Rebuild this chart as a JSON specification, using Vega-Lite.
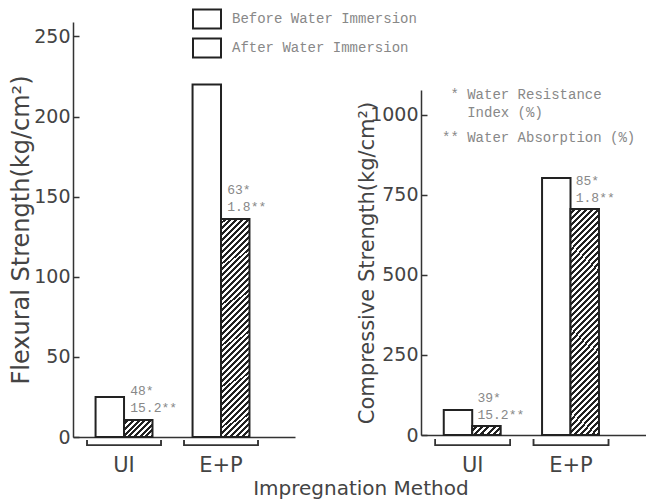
{
"$schema": "https://vega.github.io/schema/vega-lite/v6.json",
"padding": {"left": 9, "top": 4, "right": 0, "bottom": 0},
"title": {"text": "Impregnation Method", "orient": "bottom", "anchor": "middle", "dx": 33, "offset": 4, "font": "DejaVu Sans", "fontSize": 20, "fontWeight": "normal", "color": "#444"},
"datasets": {
 "flex": [
  {"method": "UI", "state": "Before Water Immersion", "value": 25},
  {"method": "UI", "state": "After Water Immersion", "value": 10.6, "wri": "48*", "abs": "15.2**"},
  {"method": "E+P", "state": "Before Water Immersion", "value": 220},
  {"method": "E+P", "state": "After Water Immersion", "value": 136, "wri": "63*", "abs": "1.8**"}
 ],
 "comp": [
  {"method": "UI", "state": "Before Water Immersion", "value": 78},
  {"method": "UI", "state": "After Water Immersion", "value": 28, "wri": "39*", "abs": "15.2**"},
  {"method": "E+P", "state": "Before Water Immersion", "value": 803},
  {"method": "E+P", "state": "After Water Immersion", "value": 706, "wri": "85*", "abs": "1.8**"}
 ]
},
"spacing": 126,
"bounds": "flush",
"resolve": {"scale": {"stroke": "independent"}, "legend": {"stroke": "independent"}},
"hconcat": [
 {
  "width": 222, "height": 415,
  "data": {"name": "flex"},
  "encoding": {
   "x": {"field": "method", "type": "nominal", "scale": {"domain": ["UI", "E+P"], "paddingInner": 0.237, "paddingOuter": 0.263, "align": 0.275}, "axis": {"title": null, "ticks": false, "labelFontSize": 21, "labelPadding": 17, "labelAngle": 0}},
   "y": {"field": "value", "type": "quantitative", "scale": {"domain": [0, 259], "nice": false}, "axis": {"title": "Flexural Strength(kg/cm²)", "values": [0, 50, 100, 150, 200, 250], "format": "d", "labelFontSize": 19, "tickSize": -6, "labelPadding": 9, "titleFontSize": 24, "titlePadding": 0}}
  },
  "layer": [
   {
    "mark": {"type": "bar", "strokeWidth": 2},
    "encoding": {
     "xOffset": {"field": "state", "type": "nominal", "scale": {"domain": ["Before Water Immersion", "After Water Immersion"], "paddingInner": 0, "paddingOuter": 0.3}},
     "stroke": {"field": "state", "type": "nominal", "scale": {"domain": ["Before Water Immersion", "After Water Immersion"], "range": ["#222", "#222"]},
      "legend": {"orient": "none", "legendX": 119, "legendY": -18, "title": null, "padding": 0, "rowPadding": 0, "symbolType": "M-1,-0.68H1V0.68H-1Z", "symbolSize": 784, "symbolStrokeWidth": 2, "labelFont": "Liberation Mono", "labelFontSize": 14, "labelColor": "#888", "labelOffset": 10, "labelLimit": 400,
       "encode": {"symbols": {"update": {"stroke": {"value": "#222"}, "strokeWidth": {"value": 2}, "opacity": {"value": 1}, "fill": [
        {"test": "datum.value === 'After Water Immersion'", "value": {"gradient": "linear", "x1": 0, "y1": 0, "x2": 1.1488, "y2": 0.7812, "stops": [
         {"offset": 0, "color": "#fff"}, {"offset": 0.0625, "color": "#fff"}, {"offset": 0.0625, "color": "#222"}, {"offset": 0.125, "color": "#222"},
         {"offset": 0.125, "color": "#fff"}, {"offset": 0.1875, "color": "#fff"}, {"offset": 0.1875, "color": "#222"}, {"offset": 0.25, "color": "#222"},
         {"offset": 0.25, "color": "#fff"}, {"offset": 0.3125, "color": "#fff"}, {"offset": 0.3125, "color": "#222"}, {"offset": 0.375, "color": "#222"},
         {"offset": 0.375, "color": "#fff"}, {"offset": 0.4375, "color": "#fff"}, {"offset": 0.4375, "color": "#222"}, {"offset": 0.5, "color": "#222"},
         {"offset": 0.5, "color": "#fff"}, {"offset": 0.5625, "color": "#fff"}, {"offset": 0.5625, "color": "#222"}, {"offset": 0.625, "color": "#222"},
         {"offset": 0.625, "color": "#fff"}, {"offset": 0.6875, "color": "#fff"}, {"offset": 0.6875, "color": "#222"}, {"offset": 0.75, "color": "#222"},
         {"offset": 0.75, "color": "#fff"}, {"offset": 0.8125, "color": "#fff"}, {"offset": 0.8125, "color": "#222"}, {"offset": 0.875, "color": "#222"},
         {"offset": 0.875, "color": "#fff"}, {"offset": 0.9375, "color": "#fff"}, {"offset": 0.9375, "color": "#222"}, {"offset": 1, "color": "#222"}]}},
        {"value": "#fff"}]}}}}},
     "fill": {"condition": [
      {"test": "datum.state === 'After Water Immersion' && datum.method === 'E+P'", "value": {"gradient": "linear", "x1": 0, "y1": 0, "x2": 0.1431, "y2": 1.1104, "stops": [
       {"offset": 0, "color": "#fff"}, {"offset": 0.0119, "color": "#fff"}, {"offset": 0.0119, "color": "#222"}, {"offset": 0.0238, "color": "#222"},
       {"offset": 0.0238, "color": "#fff"}, {"offset": 0.0357, "color": "#fff"}, {"offset": 0.0357, "color": "#222"}, {"offset": 0.0476, "color": "#222"},
       {"offset": 0.0476, "color": "#fff"}, {"offset": 0.0595, "color": "#fff"}, {"offset": 0.0595, "color": "#222"}, {"offset": 0.0714, "color": "#222"},
       {"offset": 0.0714, "color": "#fff"}, {"offset": 0.0833, "color": "#fff"}, {"offset": 0.0833, "color": "#222"}, {"offset": 0.0952, "color": "#222"},
       {"offset": 0.0952, "color": "#fff"}, {"offset": 0.1071, "color": "#fff"}, {"offset": 0.1071, "color": "#222"}, {"offset": 0.119, "color": "#222"},
       {"offset": 0.119, "color": "#fff"}, {"offset": 0.131, "color": "#fff"}, {"offset": 0.131, "color": "#222"}, {"offset": 0.1429, "color": "#222"},
       {"offset": 0.1429, "color": "#fff"}, {"offset": 0.1548, "color": "#fff"}, {"offset": 0.1548, "color": "#222"}, {"offset": 0.1667, "color": "#222"},
       {"offset": 0.1667, "color": "#fff"}, {"offset": 0.1786, "color": "#fff"}, {"offset": 0.1786, "color": "#222"}, {"offset": 0.1905, "color": "#222"},
       {"offset": 0.1905, "color": "#fff"}, {"offset": 0.2024, "color": "#fff"}, {"offset": 0.2024, "color": "#222"}, {"offset": 0.2143, "color": "#222"},
       {"offset": 0.2143, "color": "#fff"}, {"offset": 0.2262, "color": "#fff"}, {"offset": 0.2262, "color": "#222"}, {"offset": 0.2381, "color": "#222"},
       {"offset": 0.2381, "color": "#fff"}, {"offset": 0.25, "color": "#fff"}, {"offset": 0.25, "color": "#222"}, {"offset": 0.2619, "color": "#222"},
       {"offset": 0.2619, "color": "#fff"}, {"offset": 0.2738, "color": "#fff"}, {"offset": 0.2738, "color": "#222"}, {"offset": 0.2857, "color": "#222"},
       {"offset": 0.2857, "color": "#fff"}, {"offset": 0.2976, "color": "#fff"}, {"offset": 0.2976, "color": "#222"}, {"offset": 0.3095, "color": "#222"},
       {"offset": 0.3095, "color": "#fff"}, {"offset": 0.3214, "color": "#fff"}, {"offset": 0.3214, "color": "#222"}, {"offset": 0.3333, "color": "#222"},
       {"offset": 0.3333, "color": "#fff"}, {"offset": 0.3452, "color": "#fff"}, {"offset": 0.3452, "color": "#222"}, {"offset": 0.3571, "color": "#222"},
       {"offset": 0.3571, "color": "#fff"}, {"offset": 0.369, "color": "#fff"}, {"offset": 0.369, "color": "#222"}, {"offset": 0.381, "color": "#222"},
       {"offset": 0.381, "color": "#fff"}, {"offset": 0.3929, "color": "#fff"}, {"offset": 0.3929, "color": "#222"}, {"offset": 0.4048, "color": "#222"},
       {"offset": 0.4048, "color": "#fff"}, {"offset": 0.4167, "color": "#fff"}, {"offset": 0.4167, "color": "#222"}, {"offset": 0.4286, "color": "#222"},
       {"offset": 0.4286, "color": "#fff"}, {"offset": 0.4405, "color": "#fff"}, {"offset": 0.4405, "color": "#222"}, {"offset": 0.4524, "color": "#222"},
       {"offset": 0.4524, "color": "#fff"}, {"offset": 0.4643, "color": "#fff"}, {"offset": 0.4643, "color": "#222"}, {"offset": 0.4762, "color": "#222"},
       {"offset": 0.4762, "color": "#fff"}, {"offset": 0.4881, "color": "#fff"}, {"offset": 0.4881, "color": "#222"}, {"offset": 0.5, "color": "#222"},
       {"offset": 0.5, "color": "#fff"}, {"offset": 0.5119, "color": "#fff"}, {"offset": 0.5119, "color": "#222"}, {"offset": 0.5238, "color": "#222"},
       {"offset": 0.5238, "color": "#fff"}, {"offset": 0.5357, "color": "#fff"}, {"offset": 0.5357, "color": "#222"}, {"offset": 0.5476, "color": "#222"},
       {"offset": 0.5476, "color": "#fff"}, {"offset": 0.5595, "color": "#fff"}, {"offset": 0.5595, "color": "#222"}, {"offset": 0.5714, "color": "#222"},
       {"offset": 0.5714, "color": "#fff"}, {"offset": 0.5833, "color": "#fff"}, {"offset": 0.5833, "color": "#222"}, {"offset": 0.5952, "color": "#222"},
       {"offset": 0.5952, "color": "#fff"}, {"offset": 0.6071, "color": "#fff"}, {"offset": 0.6071, "color": "#222"}, {"offset": 0.619, "color": "#222"},
       {"offset": 0.619, "color": "#fff"}, {"offset": 0.631, "color": "#fff"}, {"offset": 0.631, "color": "#222"}, {"offset": 0.6429, "color": "#222"},
       {"offset": 0.6429, "color": "#fff"}, {"offset": 0.6548, "color": "#fff"}, {"offset": 0.6548, "color": "#222"}, {"offset": 0.6667, "color": "#222"},
       {"offset": 0.6667, "color": "#fff"}, {"offset": 0.6786, "color": "#fff"}, {"offset": 0.6786, "color": "#222"}, {"offset": 0.6905, "color": "#222"},
       {"offset": 0.6905, "color": "#fff"}, {"offset": 0.7024, "color": "#fff"}, {"offset": 0.7024, "color": "#222"}, {"offset": 0.7143, "color": "#222"},
       {"offset": 0.7143, "color": "#fff"}, {"offset": 0.7262, "color": "#fff"}, {"offset": 0.7262, "color": "#222"}, {"offset": 0.7381, "color": "#222"},
       {"offset": 0.7381, "color": "#fff"}, {"offset": 0.75, "color": "#fff"}, {"offset": 0.75, "color": "#222"}, {"offset": 0.7619, "color": "#222"},
       {"offset": 0.7619, "color": "#fff"}, {"offset": 0.7738, "color": "#fff"}, {"offset": 0.7738, "color": "#222"}, {"offset": 0.7857, "color": "#222"},
       {"offset": 0.7857, "color": "#fff"}, {"offset": 0.7976, "color": "#fff"}, {"offset": 0.7976, "color": "#222"}, {"offset": 0.8095, "color": "#222"},
       {"offset": 0.8095, "color": "#fff"}, {"offset": 0.8214, "color": "#fff"}, {"offset": 0.8214, "color": "#222"}, {"offset": 0.8333, "color": "#222"},
       {"offset": 0.8333, "color": "#fff"}, {"offset": 0.8452, "color": "#fff"}, {"offset": 0.8452, "color": "#222"}, {"offset": 0.8571, "color": "#222"},
       {"offset": 0.8571, "color": "#fff"}, {"offset": 0.869, "color": "#fff"}, {"offset": 0.869, "color": "#222"}, {"offset": 0.881, "color": "#222"},
       {"offset": 0.881, "color": "#fff"}, {"offset": 0.8929, "color": "#fff"}, {"offset": 0.8929, "color": "#222"}, {"offset": 0.9048, "color": "#222"},
       {"offset": 0.9048, "color": "#fff"}, {"offset": 0.9167, "color": "#fff"}, {"offset": 0.9167, "color": "#222"}, {"offset": 0.9286, "color": "#222"},
       {"offset": 0.9286, "color": "#fff"}, {"offset": 0.9405, "color": "#fff"}, {"offset": 0.9405, "color": "#222"}, {"offset": 0.9524, "color": "#222"},
       {"offset": 0.9524, "color": "#fff"}, {"offset": 0.9643, "color": "#fff"}, {"offset": 0.9643, "color": "#222"}, {"offset": 0.9762, "color": "#222"},
       {"offset": 0.9762, "color": "#fff"}, {"offset": 0.9881, "color": "#fff"}, {"offset": 0.9881, "color": "#222"}, {"offset": 1, "color": "#222"}]}},
      {"test": "datum.state === 'After Water Immersion'", "value": {"gradient": "linear", "x1": 0, "y1": 0, "x2": 1.178, "y2": 0.7026, "stops": [
       {"offset": 0, "color": "#fff"}, {"offset": 0.0625, "color": "#fff"}, {"offset": 0.0625, "color": "#222"}, {"offset": 0.125, "color": "#222"},
       {"offset": 0.125, "color": "#fff"}, {"offset": 0.1875, "color": "#fff"}, {"offset": 0.1875, "color": "#222"}, {"offset": 0.25, "color": "#222"},
       {"offset": 0.25, "color": "#fff"}, {"offset": 0.3125, "color": "#fff"}, {"offset": 0.3125, "color": "#222"}, {"offset": 0.375, "color": "#222"},
       {"offset": 0.375, "color": "#fff"}, {"offset": 0.4375, "color": "#fff"}, {"offset": 0.4375, "color": "#222"}, {"offset": 0.5, "color": "#222"},
       {"offset": 0.5, "color": "#fff"}, {"offset": 0.5625, "color": "#fff"}, {"offset": 0.5625, "color": "#222"}, {"offset": 0.625, "color": "#222"},
       {"offset": 0.625, "color": "#fff"}, {"offset": 0.6875, "color": "#fff"}, {"offset": 0.6875, "color": "#222"}, {"offset": 0.75, "color": "#222"},
       {"offset": 0.75, "color": "#fff"}, {"offset": 0.8125, "color": "#fff"}, {"offset": 0.8125, "color": "#222"}, {"offset": 0.875, "color": "#222"},
       {"offset": 0.875, "color": "#fff"}, {"offset": 0.9375, "color": "#fff"}, {"offset": 0.9375, "color": "#222"}, {"offset": 1, "color": "#222"}]}}
     ], "value": "#fff"}
    }
   },
   {
    "transform": [{"filter": "datum.wri != null"}],
    "mark": {"type": "text", "align": "left", "baseline": "middle", "dx": -8, "dy": -29, "font": "Liberation Mono", "fontSize": 13, "color": "#888"},
    "encoding": {"xOffset": {"field": "state", "type": "nominal"}, "text": {"field": "wri"}}
   },
   {
    "transform": [{"filter": "datum.abs != null"}],
    "mark": {"type": "text", "align": "left", "baseline": "middle", "dx": -8, "dy": -12, "font": "Liberation Mono", "fontSize": 13, "color": "#888"},
    "encoding": {"xOffset": {"field": "state", "type": "nominal"}, "text": {"field": "abs"}}
   },
   {
    "mark": {"type": "rect", "color": "#333", "yOffset": 7.5, "y2Offset": 9},
    "encoding": {"y": {"datum": 0, "type": "quantitative"}, "y2": {"datum": 0}}
   },
   {
    "mark": {"type": "rule", "color": "#333", "strokeWidth": 1.5, "yOffset": 3, "y2Offset": 9},
    "encoding": {"x": {"field": "method", "type": "nominal", "bandPosition": 0}, "y": {"datum": 0, "type": "quantitative"}, "y2": {"datum": 0}}
   },
   {
    "mark": {"type": "rule", "color": "#333", "strokeWidth": 1.5, "yOffset": 3, "y2Offset": 9},
    "encoding": {"x": {"field": "method", "type": "nominal", "bandPosition": 1}, "y": {"datum": 0, "type": "quantitative"}, "y2": {"datum": 0}}
   }
  ]
 },
 {
  "width": 225, "height": 413,
  "data": {"name": "comp"},
  "title": {"text": ["\u200b\u00a0* Water Resistance", "\u200b\u00a0\u00a0\u00a0Index (%)"], "subtitle": "** Water Absorption (%)", "orient": "top", "anchor": "start", "frame": "group", "dx": 21, "offset": -123, "font": "Liberation Mono", "fontSize": 14, "fontWeight": "normal", "color": "#888", "lineHeight": 18, "subtitleFont": "Liberation Mono", "subtitleFontSize": 14, "subtitleColor": "#888", "subtitlePadding": 11},
  "encoding": {
   "x": {"field": "method", "type": "nominal", "scale": {"domain": ["UI", "E+P"], "paddingInner": 0.237, "paddingOuter": 0.263, "align": 0.275}, "axis": {"title": null, "ticks": false, "labelFontSize": 21, "labelPadding": 19, "labelAngle": 0}},
   "y": {"field": "value", "type": "quantitative", "scale": {"domain": [0, 1078], "range": [413, 68], "nice": false}, "axis": {"title": "Compressive Strength(kg/cm²)", "values": [0, 250, 500, 750, 1000], "format": "d", "labelFontSize": 19, "tickSize": -6, "labelPadding": 9, "titleFontSize": 21, "titlePadding": -8}}
  },
  "layer": [
   {
    "mark": {"type": "bar", "strokeWidth": 2},
    "encoding": {
     "xOffset": {"field": "state", "type": "nominal", "scale": {"domain": ["Before Water Immersion", "After Water Immersion"], "paddingInner": 0, "paddingOuter": 0.3}},
     "stroke": {"field": "state", "type": "nominal", "scale": {"domain": ["Before Water Immersion", "After Water Immersion"], "range": ["#222", "#222"]}, "legend": null},
     "fill": {"condition": [
      {"test": "datum.state === 'After Water Immersion' && datum.method === 'E+P'", "value": {"gradient": "linear", "x1": 0, "y1": 0, "x2": 0.1431, "y2": 1.1104, "stops": [
       {"offset": 0, "color": "#fff"}, {"offset": 0.0119, "color": "#fff"}, {"offset": 0.0119, "color": "#222"}, {"offset": 0.0238, "color": "#222"},
       {"offset": 0.0238, "color": "#fff"}, {"offset": 0.0357, "color": "#fff"}, {"offset": 0.0357, "color": "#222"}, {"offset": 0.0476, "color": "#222"},
       {"offset": 0.0476, "color": "#fff"}, {"offset": 0.0595, "color": "#fff"}, {"offset": 0.0595, "color": "#222"}, {"offset": 0.0714, "color": "#222"},
       {"offset": 0.0714, "color": "#fff"}, {"offset": 0.0833, "color": "#fff"}, {"offset": 0.0833, "color": "#222"}, {"offset": 0.0952, "color": "#222"},
       {"offset": 0.0952, "color": "#fff"}, {"offset": 0.1071, "color": "#fff"}, {"offset": 0.1071, "color": "#222"}, {"offset": 0.119, "color": "#222"},
       {"offset": 0.119, "color": "#fff"}, {"offset": 0.131, "color": "#fff"}, {"offset": 0.131, "color": "#222"}, {"offset": 0.1429, "color": "#222"},
       {"offset": 0.1429, "color": "#fff"}, {"offset": 0.1548, "color": "#fff"}, {"offset": 0.1548, "color": "#222"}, {"offset": 0.1667, "color": "#222"},
       {"offset": 0.1667, "color": "#fff"}, {"offset": 0.1786, "color": "#fff"}, {"offset": 0.1786, "color": "#222"}, {"offset": 0.1905, "color": "#222"},
       {"offset": 0.1905, "color": "#fff"}, {"offset": 0.2024, "color": "#fff"}, {"offset": 0.2024, "color": "#222"}, {"offset": 0.2143, "color": "#222"},
       {"offset": 0.2143, "color": "#fff"}, {"offset": 0.2262, "color": "#fff"}, {"offset": 0.2262, "color": "#222"}, {"offset": 0.2381, "color": "#222"},
       {"offset": 0.2381, "color": "#fff"}, {"offset": 0.25, "color": "#fff"}, {"offset": 0.25, "color": "#222"}, {"offset": 0.2619, "color": "#222"},
       {"offset": 0.2619, "color": "#fff"}, {"offset": 0.2738, "color": "#fff"}, {"offset": 0.2738, "color": "#222"}, {"offset": 0.2857, "color": "#222"},
       {"offset": 0.2857, "color": "#fff"}, {"offset": 0.2976, "color": "#fff"}, {"offset": 0.2976, "color": "#222"}, {"offset": 0.3095, "color": "#222"},
       {"offset": 0.3095, "color": "#fff"}, {"offset": 0.3214, "color": "#fff"}, {"offset": 0.3214, "color": "#222"}, {"offset": 0.3333, "color": "#222"},
       {"offset": 0.3333, "color": "#fff"}, {"offset": 0.3452, "color": "#fff"}, {"offset": 0.3452, "color": "#222"}, {"offset": 0.3571, "color": "#222"},
       {"offset": 0.3571, "color": "#fff"}, {"offset": 0.369, "color": "#fff"}, {"offset": 0.369, "color": "#222"}, {"offset": 0.381, "color": "#222"},
       {"offset": 0.381, "color": "#fff"}, {"offset": 0.3929, "color": "#fff"}, {"offset": 0.3929, "color": "#222"}, {"offset": 0.4048, "color": "#222"},
       {"offset": 0.4048, "color": "#fff"}, {"offset": 0.4167, "color": "#fff"}, {"offset": 0.4167, "color": "#222"}, {"offset": 0.4286, "color": "#222"},
       {"offset": 0.4286, "color": "#fff"}, {"offset": 0.4405, "color": "#fff"}, {"offset": 0.4405, "color": "#222"}, {"offset": 0.4524, "color": "#222"},
       {"offset": 0.4524, "color": "#fff"}, {"offset": 0.4643, "color": "#fff"}, {"offset": 0.4643, "color": "#222"}, {"offset": 0.4762, "color": "#222"},
       {"offset": 0.4762, "color": "#fff"}, {"offset": 0.4881, "color": "#fff"}, {"offset": 0.4881, "color": "#222"}, {"offset": 0.5, "color": "#222"},
       {"offset": 0.5, "color": "#fff"}, {"offset": 0.5119, "color": "#fff"}, {"offset": 0.5119, "color": "#222"}, {"offset": 0.5238, "color": "#222"},
       {"offset": 0.5238, "color": "#fff"}, {"offset": 0.5357, "color": "#fff"}, {"offset": 0.5357, "color": "#222"}, {"offset": 0.5476, "color": "#222"},
       {"offset": 0.5476, "color": "#fff"}, {"offset": 0.5595, "color": "#fff"}, {"offset": 0.5595, "color": "#222"}, {"offset": 0.5714, "color": "#222"},
       {"offset": 0.5714, "color": "#fff"}, {"offset": 0.5833, "color": "#fff"}, {"offset": 0.5833, "color": "#222"}, {"offset": 0.5952, "color": "#222"},
       {"offset": 0.5952, "color": "#fff"}, {"offset": 0.6071, "color": "#fff"}, {"offset": 0.6071, "color": "#222"}, {"offset": 0.619, "color": "#222"},
       {"offset": 0.619, "color": "#fff"}, {"offset": 0.631, "color": "#fff"}, {"offset": 0.631, "color": "#222"}, {"offset": 0.6429, "color": "#222"},
       {"offset": 0.6429, "color": "#fff"}, {"offset": 0.6548, "color": "#fff"}, {"offset": 0.6548, "color": "#222"}, {"offset": 0.6667, "color": "#222"},
       {"offset": 0.6667, "color": "#fff"}, {"offset": 0.6786, "color": "#fff"}, {"offset": 0.6786, "color": "#222"}, {"offset": 0.6905, "color": "#222"},
       {"offset": 0.6905, "color": "#fff"}, {"offset": 0.7024, "color": "#fff"}, {"offset": 0.7024, "color": "#222"}, {"offset": 0.7143, "color": "#222"},
       {"offset": 0.7143, "color": "#fff"}, {"offset": 0.7262, "color": "#fff"}, {"offset": 0.7262, "color": "#222"}, {"offset": 0.7381, "color": "#222"},
       {"offset": 0.7381, "color": "#fff"}, {"offset": 0.75, "color": "#fff"}, {"offset": 0.75, "color": "#222"}, {"offset": 0.7619, "color": "#222"},
       {"offset": 0.7619, "color": "#fff"}, {"offset": 0.7738, "color": "#fff"}, {"offset": 0.7738, "color": "#222"}, {"offset": 0.7857, "color": "#222"},
       {"offset": 0.7857, "color": "#fff"}, {"offset": 0.7976, "color": "#fff"}, {"offset": 0.7976, "color": "#222"}, {"offset": 0.8095, "color": "#222"},
       {"offset": 0.8095, "color": "#fff"}, {"offset": 0.8214, "color": "#fff"}, {"offset": 0.8214, "color": "#222"}, {"offset": 0.8333, "color": "#222"},
       {"offset": 0.8333, "color": "#fff"}, {"offset": 0.8452, "color": "#fff"}, {"offset": 0.8452, "color": "#222"}, {"offset": 0.8571, "color": "#222"},
       {"offset": 0.8571, "color": "#fff"}, {"offset": 0.869, "color": "#fff"}, {"offset": 0.869, "color": "#222"}, {"offset": 0.881, "color": "#222"},
       {"offset": 0.881, "color": "#fff"}, {"offset": 0.8929, "color": "#fff"}, {"offset": 0.8929, "color": "#222"}, {"offset": 0.9048, "color": "#222"},
       {"offset": 0.9048, "color": "#fff"}, {"offset": 0.9167, "color": "#fff"}, {"offset": 0.9167, "color": "#222"}, {"offset": 0.9286, "color": "#222"},
       {"offset": 0.9286, "color": "#fff"}, {"offset": 0.9405, "color": "#fff"}, {"offset": 0.9405, "color": "#222"}, {"offset": 0.9524, "color": "#222"},
       {"offset": 0.9524, "color": "#fff"}, {"offset": 0.9643, "color": "#fff"}, {"offset": 0.9643, "color": "#222"}, {"offset": 0.9762, "color": "#222"},
       {"offset": 0.9762, "color": "#fff"}, {"offset": 0.9881, "color": "#fff"}, {"offset": 0.9881, "color": "#222"}, {"offset": 1, "color": "#222"}]}},
      {"test": "datum.state === 'After Water Immersion'", "value": {"gradient": "linear", "x1": 0, "y1": 0, "x2": 1.195, "y2": 0.3712, "stops": [
       {"offset": 0, "color": "#fff"}, {"offset": 0.0833, "color": "#fff"}, {"offset": 0.0833, "color": "#222"}, {"offset": 0.1667, "color": "#222"},
       {"offset": 0.1667, "color": "#fff"}, {"offset": 0.25, "color": "#fff"}, {"offset": 0.25, "color": "#222"}, {"offset": 0.3333, "color": "#222"},
       {"offset": 0.3333, "color": "#fff"}, {"offset": 0.4167, "color": "#fff"}, {"offset": 0.4167, "color": "#222"}, {"offset": 0.5, "color": "#222"},
       {"offset": 0.5, "color": "#fff"}, {"offset": 0.5833, "color": "#fff"}, {"offset": 0.5833, "color": "#222"}, {"offset": 0.6667, "color": "#222"},
       {"offset": 0.6667, "color": "#fff"}, {"offset": 0.75, "color": "#fff"}, {"offset": 0.75, "color": "#222"}, {"offset": 0.8333, "color": "#222"},
       {"offset": 0.8333, "color": "#fff"}, {"offset": 0.9167, "color": "#fff"}, {"offset": 0.9167, "color": "#222"}, {"offset": 1, "color": "#222"}]}}
     ], "value": "#fff"}
    }
   },
   {
    "transform": [{"filter": "datum.wri != null"}],
    "mark": {"type": "text", "align": "left", "baseline": "middle", "dx": -9, "dy": -28, "font": "Liberation Mono", "fontSize": 13, "color": "#888"},
    "encoding": {"xOffset": {"field": "state", "type": "nominal"}, "text": {"field": "wri"}}
   },
   {
    "transform": [{"filter": "datum.abs != null"}],
    "mark": {"type": "text", "align": "left", "baseline": "middle", "dx": -9, "dy": -11, "font": "Liberation Mono", "fontSize": 13, "color": "#888"},
    "encoding": {"xOffset": {"field": "state", "type": "nominal"}, "text": {"field": "abs"}}
   },
   {
    "mark": {"type": "rect", "color": "#333", "yOffset": 9.5, "y2Offset": 11},
    "encoding": {"y": {"datum": 0, "type": "quantitative"}, "y2": {"datum": 0}}
   },
   {
    "mark": {"type": "rule", "color": "#333", "strokeWidth": 1.5, "yOffset": 4, "y2Offset": 11},
    "encoding": {"x": {"field": "method", "type": "nominal", "bandPosition": 0}, "y": {"datum": 0, "type": "quantitative"}, "y2": {"datum": 0}}
   },
   {
    "mark": {"type": "rule", "color": "#333", "strokeWidth": 1.5, "yOffset": 4, "y2Offset": 11},
    "encoding": {"x": {"field": "method", "type": "nominal", "bandPosition": 1}, "y": {"datum": 0, "type": "quantitative"}, "y2": {"datum": 0}}
   }
  ]
 }
],
"config": {
 "view": {"stroke": null},
 "font": "DejaVu Sans",
 "axis": {"grid": false, "domainColor": "#333", "domainWidth": 1.5, "tickColor": "#333", "tickWidth": 1.5, "labelFont": "DejaVu Sans", "labelColor": "#444", "titleFont": "DejaVu Sans", "titleColor": "#444", "titleFontWeight": "normal"}
}
}
